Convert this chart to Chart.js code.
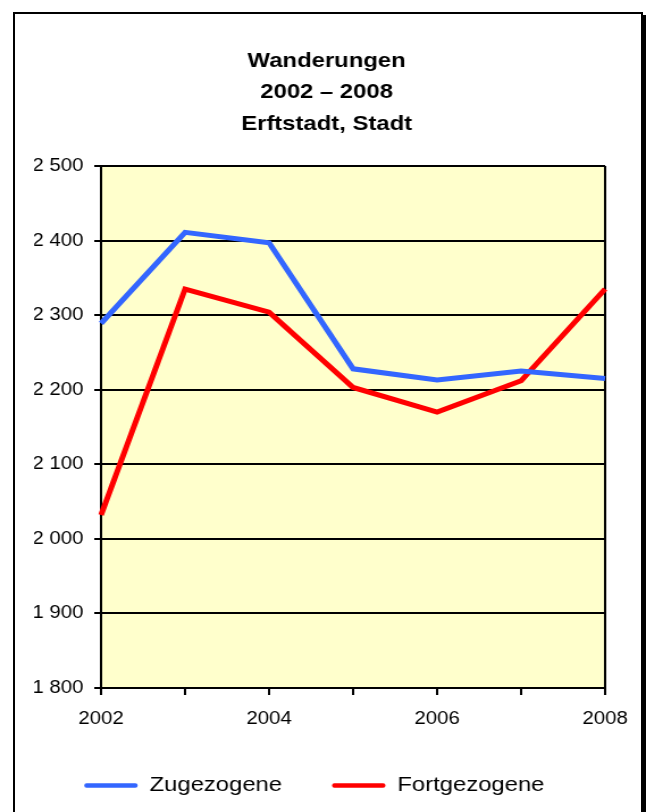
<!DOCTYPE html>
<html>
<head>
<meta charset="utf-8">
<script src="https://cdn.jsdelivr.net/npm/chart.js@4/dist/chart.umd.min.js"></script>
<style>
  html, body { margin: 0; padding: 0; background: #ffffff; overflow: hidden; width: 646px; height: 812px; }
  #c { position: absolute; left: 0; top: 0; width: 646px; height: 812px; }
  #frame { position: absolute; left: 13px; top: 12px; width: 626px; height: 900px;
           border: 2px solid #000; box-shadow: 3px 3px 0 #000; pointer-events: none; }
</style>
</head>
<body>
<canvas id="c" width="569" height="812" style="width:646px;height:812px"></canvas>
<div id="frame"></div>
<script>
// ---- data ----
const categories = ['2002', '2003', '2004', '2005', '2006', '2007', '2008'];
const xTickLabels = ['2002', '', '2004', '', '2006', '', '2008'];
const zugezogene = [2289, 2411, 2397, 2228, 2213, 2225, 2215];
const fortgezogene = [2032, 2335, 2304, 2203, 2170, 2212, 2335];
const seriesNames = ['Zugezogene', 'Fortgezogene'];
const titleLines = ['Wanderungen', '2002 \u2013 2008', 'Erftstadt, Stadt'];
const yMin = 1800, yMax = 2500, yStep = 100;

const FONT = "'Liberation Sans', Arial, sans-serif";

const bgPlugin = {
  id: 'plotBg',
  beforeDraw(chart) {
    const { ctx, chartArea } = chart;
    if (!chartArea) return;
    ctx.save();
    ctx.fillStyle = '#FFFFCC';
    ctx.fillRect(chartArea.left, chartArea.top, chartArea.right - chartArea.left, chartArea.bottom - chartArea.top);
    ctx.restore();
  }
};

function fmt(v) {
  return String(v).replace(/\B(?=(\d{3})+(?!\d))/g, ' ');
}

new Chart(document.getElementById('c'), {
  type: 'line',
  data: {
    labels: categories,
    datasets: [
      { label: seriesNames[0], data: zugezogene, borderColor: '#3366FF', backgroundColor: '#3366FF',
        borderWidth: 5, pointRadius: 0, pointHoverRadius: 0, tension: 0, fill: false,
        borderJoinStyle: 'miter', borderCapStyle: 'butt' },
      { label: seriesNames[1], data: fortgezogene, borderColor: '#FF0000', backgroundColor: '#FF0000',
        borderWidth: 5, pointRadius: 0, pointHoverRadius: 0, tension: 0, fill: false,
        borderJoinStyle: 'miter', borderCapStyle: 'butt' }
    ]
  },
  options: {
    responsive: false,
    animation: false,
    devicePixelRatio: 1,
    events: [],
    layout: { padding: { left: 30.2, right: 23.8, top: 0, bottom: 6 } },
    plugins: {
      tooltip: { enabled: false },
      title: {
        display: true,
        text: titleLines,
        color: '#000',
        font: { family: FONT, size: 21, weight: 'bold', lineHeight: 1.5 },
        padding: { top: 45, bottom: 26.5 }
      },
      legend: {
        display: true,
        position: 'bottom',
        align: 'start',
        labels: {
          color: '#000',
          font: { family: FONT, size: 21, lineHeight: 1 },
          boxWidth: 47,
          boxHeight: 4.5,
          padding: 44,
          useBorderRadius: true,
          borderRadius: 2,
          generateLabels(chart) {
            return chart.data.datasets.map((ds, i) => ({
              text: ds.label,
              fillStyle: ds.borderColor,
              strokeStyle: ds.borderColor,
              lineWidth: 0,
              fontColor: '#000',
              hidden: false,
              borderRadius: 2,
              datasetIndex: i
            }));
          }
        }
      }
    },
    scales: {
      x: {
        type: 'category',
        offset: false,
        afterFit(s) { s.height = 43; },
        grid: {
          display: true,
          drawOnChartArea: true,
          drawTicks: true,
          tickLength: 7,
          lineWidth: 2,
          color: (ctx) => (ctx.index === categories.length - 1 ? '#000' : 'rgba(0,0,0,0)'),
          tickColor: '#000',
          tickWidth: 2
        },
        border: { display: true, color: '#000', width: 2 },
        ticks: {
          autoSkip: false,
          maxRotation: 0,
          minRotation: 0,
          padding: 13.5,
          color: '#000',
          font: { family: FONT, size: 18, lineHeight: 1.2 },
          callback: (v, i) => xTickLabels[i]
        }
      },
      y: {
        type: 'linear',
        min: yMin,
        max: yMax,
        afterFit(s) { s.width = 58.8; },
        grid: {
          display: true,
          drawTicks: true,
          tickLength: 6,
          lineWidth: 2,
          color: '#000',
          tickColor: '#000'
        },
        border: { display: true, color: '#000', width: 2 },
        ticks: {
          stepSize: yStep,
          padding: 9.5,
          color: '#000',
          font: { family: FONT, size: 18 },
          callback: (v) => fmt(v)
        }
      },
      yRight: {
        type: 'linear',
        position: 'right',
        display: true,
        afterFit(s) { s.width = 12.2; },
        grid: { display: false },
        border: { display: false },
        ticks: { display: false }
      }
    }
  },
  plugins: [bgPlugin]
});
</script>
</body>
</html>
